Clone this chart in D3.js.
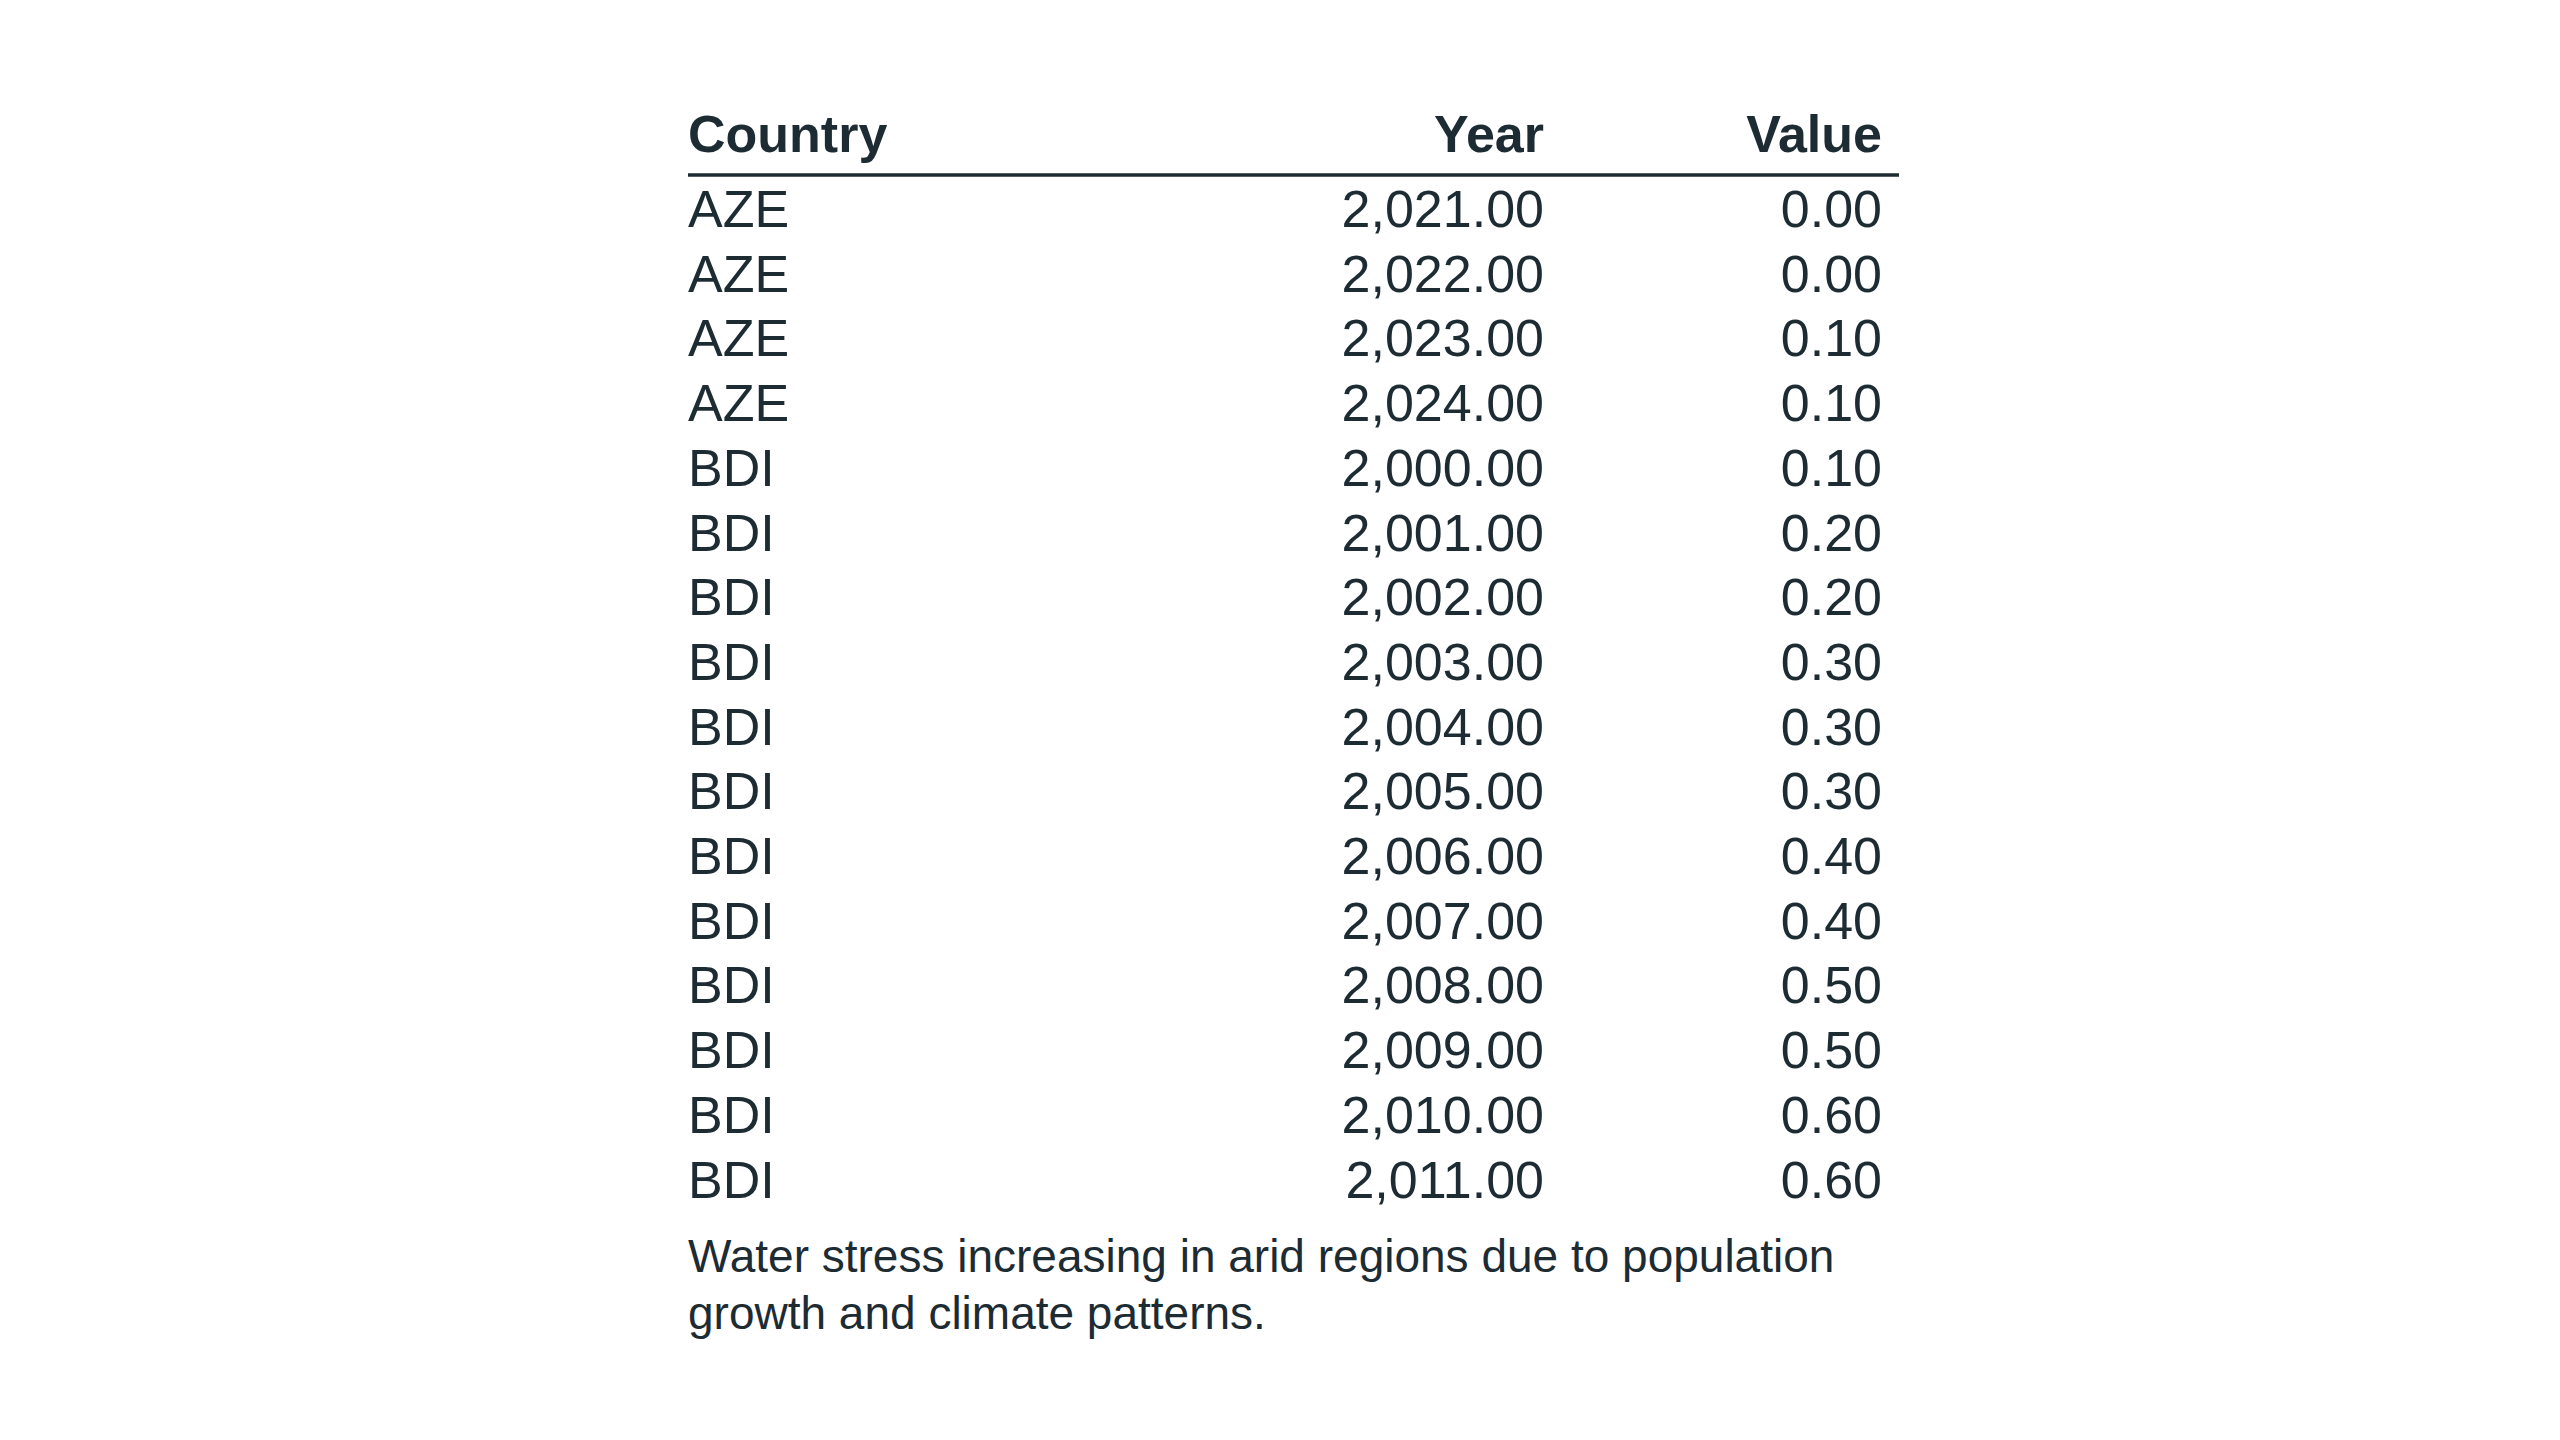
<!DOCTYPE html>
<html>
<head>
<meta charset="utf-8">
<script src="https://d3js.org/d3.v7.min.js"></script>
<style>
	html, body { margin: 0; background: #fff; }
	svg { display: block; font-family: "Liberation Sans", Arial, sans-serif; }
</style>
</head>
<body>
<svg></svg>
<script>
'use strict'

let rows = [
	['AZE', 2021, 0.0], ['AZE', 2022, 0.0], ['AZE', 2023, 0.1], ['AZE', 2024, 0.1],
	['BDI', 2000, 0.1], ['BDI', 2001, 0.2], ['BDI', 2002, 0.2], ['BDI', 2003, 0.3],
	['BDI', 2004, 0.3], ['BDI', 2005, 0.3], ['BDI', 2006, 0.4], ['BDI', 2007, 0.4],
	['BDI', 2008, 0.5], ['BDI', 2009, 0.5], ['BDI', 2010, 0.6], ['BDI', 2011, 0.6]
].map(([c, y, v]) => ({country: c, year: y, value: v}))

let ink = '#1d2b33',
	fmt = d3.format(',.2f'),
	left = 688, right = 1899,
	cols = [
		{k: 'country', label: 'Country', x: left, anchor: 'start', fmt: d => d},
		{k: 'year', label: 'Year', x: 1544, anchor: 'end', fmt: fmt},
		{k: 'value', label: 'Value', x: 1882, anchor: 'end', fmt: fmt} ],
	y = d3.scaleBand().domain(d3.range(rows.length)).range([176, 176 + 64.7 * rows.length])

let svg = d3.select('svg').attr('width', 2560).attr('height', 1440)
	.style('fill', ink)

svg.append('g').selectAll('text').data(cols).join('text')
	.attr('x', d => d.x).attr('y', 152).attr('text-anchor', d => d.anchor)
	.attr('font-size', 52).attr('font-weight', 700).text(d => d.label)

svg.append('line').attr('x1', left).attr('x2', right).attr('y1', 175).attr('y2', 175)
	.attr('stroke', ink).attr('stroke-width', 3.5)

cols.forEach(c => svg.append('g').selectAll('text').data(rows).join('text')
	.attr('x', c.x).attr('y', (d, i) => y(i) + y.bandwidth() / 2)
	.attr('dy', '0.36em').attr('text-anchor', c.anchor)
	.attr('font-size', 52).text(d => c.fmt(d[c.k])))

svg.append('text').attr('font-size', 46)
	.selectAll('tspan').data([
		'Water stress increasing in arid regions due to population',
		'growth and climate patterns.'])
	.join('tspan').attr('x', left).attr('y', (d, i) => 1272 + i * 57).text(d => d)
</script>
</body>
</html>
